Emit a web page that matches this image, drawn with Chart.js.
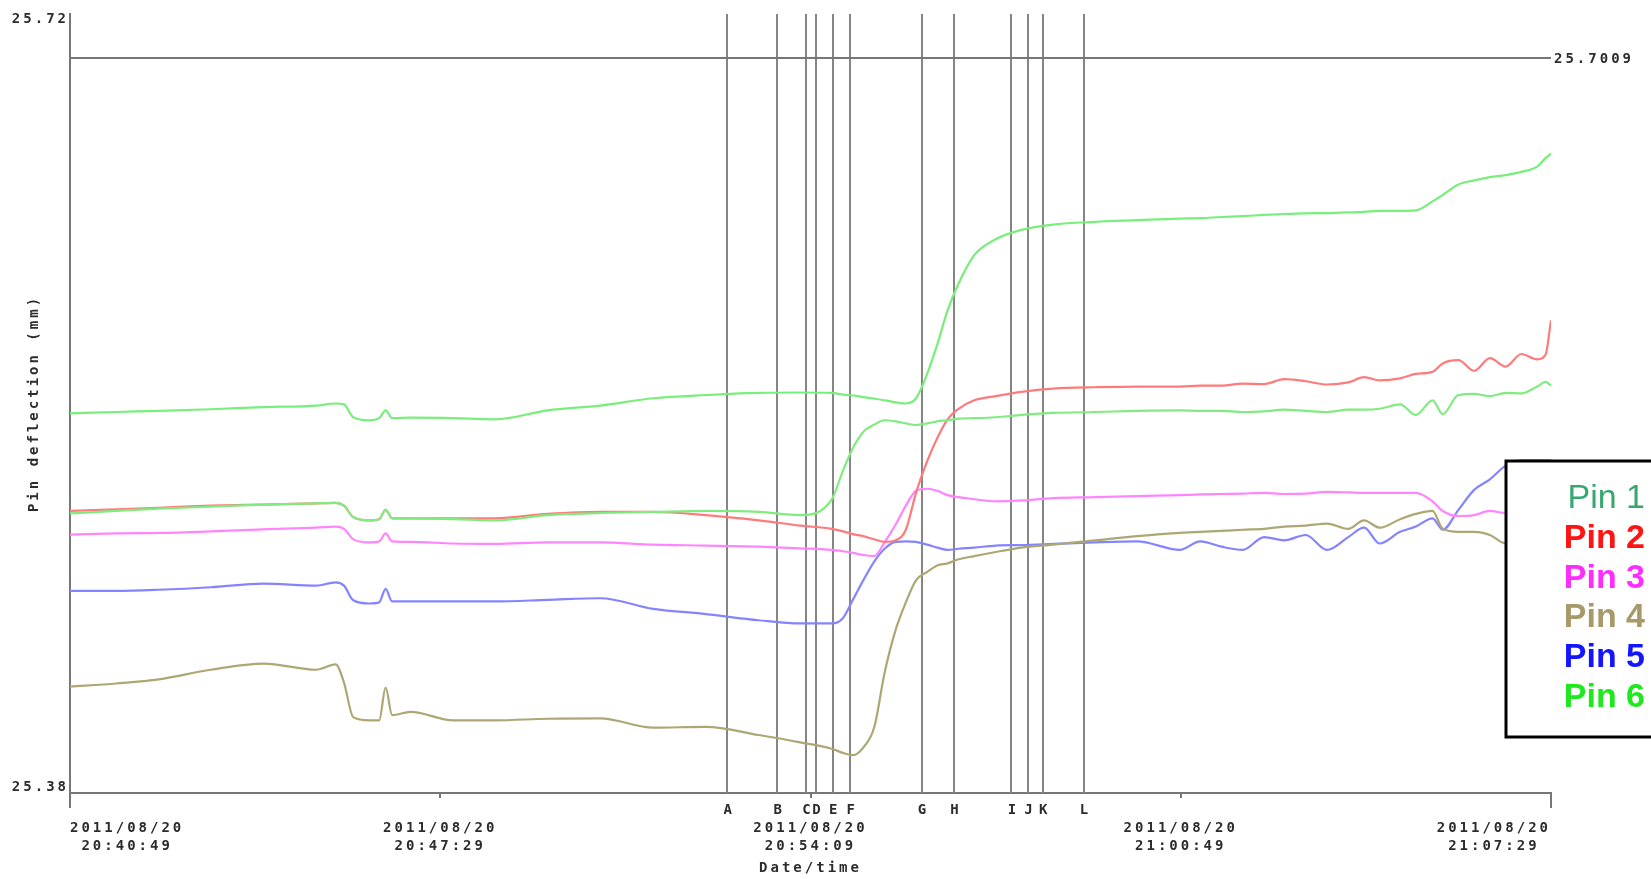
<!DOCTYPE html>
<html>
<head>
<meta charset="utf-8">
<title>Pin deflection</title>
<script src="https://cdn.jsdelivr.net/npm/chart.js"></script>
<style>
    html, body { margin: 0; padding: 0; background: #fff; }
    #wrap { width: 1651px; height: 879px; }
    #pin-chart { filter: blur(0.5px); }
</style>
</head>
<body>
<div id="wrap"><canvas id="pin-chart" width="1651" height="879"></canvas></div>
<script>
// seconds after 2011/08/20 20:40:49
const seconds = [0, 50, 96, 152, 209, 266, 287, 296, 306, 323, 334, 341, 348, 368, 414, 459, 516, 573, 630, 687,
    744, 789, 823, 835, 846, 857, 869, 880, 892, 903, 914, 926, 937, 948, 960, 977, 1000, 1028, 1062, 1108,
    1153, 1199, 1221, 1244, 1267, 1290, 1312, 1335, 1358, 1381, 1398, 1415, 1437, 1454, 1472, 1483, 1500, 1517,
    1534, 1551, 1568, 1585, 1594, 1600]

const pin1 = [25.5020, 25.5031, 25.5041, 25.5050, 25.5059, 25.5064, 25.5066, 25.5054, 25.5004, 25.4990,
    25.4995, 25.5036, 25.4999, 25.4999, 25.4995, 25.4990, 25.5013, 25.5022, 25.5027, 25.5031,
    25.5027, 25.5013, 25.5082, 25.5206, 25.5307, 25.5376, 25.5408, 25.5427, 25.5422, 25.5413,
    25.5406, 25.5413, 25.5422, 25.5427, 25.5434, 25.5436, 25.5440, 25.5450, 25.5459, 25.5463,
    25.5468, 25.5470, 25.5468, 25.5468, 25.5463, 25.5466, 25.5473, 25.5468, 25.5463, 25.5473,
    25.5473, 25.5477, 25.5496, 25.5450, 25.5514, 25.5454, 25.5537, 25.5542, 25.5532, 25.5546,
    25.5544, 25.5574, 25.5594, 25.5578]

const pin2 = [25.5031, 25.5038, 25.5045, 25.5054, 25.5059, 25.5064, 25.5066, 25.5054, 25.5004, 25.4990,
    25.4995, 25.5036, 25.4999, 25.4999, 25.4999, 25.4999, 25.5018, 25.5027, 25.5027, 25.5013,
    25.4990, 25.4967, 25.4953, 25.4942, 25.4930, 25.4921, 25.4907, 25.4896, 25.4903, 25.4949,
    25.5110, 25.5247, 25.5349, 25.5431, 25.5477, 25.5514, 25.5532, 25.5551, 25.5565, 25.5571,
    25.5574, 25.5574, 25.5578, 25.5578, 25.5587, 25.5585, 25.5606, 25.5597, 25.5583, 25.5592,
    25.5615, 25.5601, 25.5610, 25.5629, 25.5638, 25.5675, 25.5689, 25.5643, 25.5698, 25.5661,
    25.5716, 25.5693, 25.5712, 25.5863]

const pin3 = [25.4928, 25.4933, 25.4935, 25.4942, 25.4951, 25.4958, 25.4963, 25.4953, 25.4907, 25.4894,
    25.4898, 25.4933, 25.4898, 25.4896, 25.4889, 25.4887, 25.4894, 25.4894, 25.4884, 25.4880,
    25.4875, 25.4868, 25.4861, 25.4855, 25.4848, 25.4839, 25.4834, 25.4894, 25.4972, 25.5054,
    25.5119, 25.5128, 25.5119, 25.5100, 25.5091, 25.5082, 25.5073, 25.5077, 25.5087, 25.5091,
    25.5096, 25.5100, 25.5103, 25.5105, 25.5107, 25.5110, 25.5105, 25.5107, 25.5114, 25.5112,
    25.5110, 25.5110, 25.5110, 25.5110, 25.5073, 25.5031, 25.5009, 25.5013, 25.5031, 25.5022,
    25.5022, 25.5022, 25.5022, 25.5022]

const pin4 = [25.4264, 25.4278, 25.4296, 25.4338, 25.4365, 25.4338, 25.4361, 25.4282, 25.4131, 25.4117,
    25.4117, 25.4260, 25.4140, 25.4154, 25.4117, 25.4117, 25.4124, 25.4126, 25.4085, 25.4089,
    25.4053, 25.4021, 25.3993, 25.3975, 25.3965, 25.3998, 25.4089, 25.4324, 25.4512, 25.4632,
    25.4728, 25.4765, 25.4793, 25.4802, 25.4820, 25.4834, 25.4852, 25.4871, 25.4884, 25.4903,
    25.4921, 25.4935, 25.4940, 25.4944, 25.4949, 25.4953, 25.4963, 25.4967, 25.4976, 25.4953,
    25.4990, 25.4958, 25.4995, 25.5018, 25.5031, 25.4953, 25.4940, 25.4940, 25.4926, 25.4889,
    25.4903, 25.4884, 25.4880, 25.4880]

const pin5 = [25.4682, 25.4682, 25.4687, 25.4698, 25.4714, 25.4705, 25.4719, 25.4705, 25.4641, 25.4627,
    25.4632, 25.4691, 25.4636, 25.4636, 25.4636, 25.4636, 25.4643, 25.4650, 25.4604, 25.4581,
    25.4554, 25.4540, 25.4540, 25.4563, 25.4645, 25.4728, 25.4811, 25.4866, 25.4896, 25.4898,
    25.4896, 25.4884, 25.4871, 25.4861, 25.4866, 25.4871, 25.4880, 25.4882, 25.4887, 25.4894,
    25.4898, 25.4861, 25.4898, 25.4875, 25.4861, 25.4917, 25.4903, 25.4926, 25.4861, 25.4917,
    25.4958, 25.4889, 25.4940, 25.4963, 25.4999, 25.4949, 25.5036, 25.5123, 25.5169, 25.5229,
    25.5252, 25.5252, 25.5252, 25.5252]

const pin6 = [25.5457, 25.5463, 25.5468, 25.5475, 25.5484, 25.5491, 25.5500, 25.5496, 25.5440, 25.5427,
    25.5436, 25.5470, 25.5436, 25.5438, 25.5436, 25.5431, 25.5470, 25.5491, 25.5523, 25.5537,
    25.5546, 25.5548, 25.5546, 25.5539, 25.5535, 25.5528, 25.5521, 25.5514, 25.5505, 25.5500,
    25.5523, 25.5629, 25.5758, 25.5905, 25.6024, 25.6148, 25.6217, 25.6258, 25.6281, 25.6293,
    25.6300, 25.6307, 25.6309, 25.6314, 25.6318, 25.6323, 25.6327, 25.6330, 25.6331, 25.6334,
    25.6336, 25.6341, 25.6341, 25.6343, 25.6382, 25.6410, 25.6456, 25.6474, 25.6488, 25.6497,
    25.6511, 25.6534, 25.6571, 25.6591]

const pinNames = ['Pin 1', 'Pin 2', 'Pin 3', 'Pin 4', 'Pin 5', 'Pin 6']

const eventNames = ['A', 'B', 'C', 'D', 'E', 'F', 'G', 'H', 'I', 'J', 'K', 'L']
const eventSeconds = [710, 764, 795, 806, 824, 843, 920, 955, 1017, 1035, 1051, 1095]

const xTickSeconds = [0, 400, 800, 1200, 1600]
const xTickLabels = [
    ['2011/08/20', '20:40:49'],
    ['2011/08/20', '20:47:29'],
    ['2011/08/20', '20:54:09'],
    ['2011/08/20', '21:00:49'],
    ['2011/08/20', '21:07:29'],
]
const yTicks = [25.38, 25.72]
const refValue = 25.7009

// styles
const lineColors = ['#80ec80', '#ff7a7a', '#ff85ff', '#ada774', '#8484ff', '#7aee7a']
const legendColors = ['#36a86c', '#ff1414', '#ff2cff', '#a89a68', '#1414ff', '#1ee81e']
const monoFont = "'DejaVu Sans Mono', monospace"
const textGrey = '#2c2c2c'

function points(values) {
    return values.map(function (v, i) { return { x: seconds[i], y: v } })
}

const pinSeries = [pin1, pin2, pin3, pin4, pin5, pin6]
// draw order: pin 6 and pin 1 under the others
const drawOrder = [5, 0, 3, 1, 2, 4]

const datasets = drawOrder.map(function (k) {
    return {
        label: pinNames[k],
        data: points(pinSeries[k]),
        borderColor: lineColors[k],
        borderWidth: 2.2,
        pointRadius: 0,
        cubicInterpolationMode: 'monotone',
        fill: false,
    }
})

const decor = {
    id: 'decor',
    beforeDraw: function (chart) {
        chart.ctx.letterSpacing = '3px'
    },
    beforeDatasetsDraw: function (chart) {
        const ctx = chart.ctx
        const a = chart.chartArea
        const x = chart.scales.x
        const y = chart.scales.y
        ctx.save()
        ctx.lineWidth = 2
        ctx.strokeStyle = '#858585'
        eventSeconds.forEach(function (s) {
            const px = Math.round(x.getPixelForValue(s))
            ctx.beginPath()
            ctx.moveTo(px, a.top)
            ctx.lineTo(px, a.bottom)
            ctx.stroke()
        })
        const ry = Math.round(y.getPixelForValue(refValue))
        ctx.strokeStyle = '#777777'
        ctx.beginPath()
        ctx.moveTo(a.left, ry)
        ctx.lineTo(a.right, ry)
        ctx.stroke()
        ctx.restore()
    },
    afterDraw: function (chart) {
        const ctx = chart.ctx
        const a = chart.chartArea
        const x = chart.scales.x
        const y = chart.scales.y
        ctx.save()
        // axis ends reaching below the axis
        ctx.strokeStyle = '#777777'
        ctx.lineWidth = 2
        ctx.beginPath()
        ctx.moveTo(a.left, a.bottom)
        ctx.lineTo(a.left, a.bottom + 15)
        ctx.moveTo(a.right, a.bottom)
        ctx.lineTo(a.right, a.bottom + 15)
        ctx.stroke()

        // event letters
        ctx.fillStyle = textGrey
        ctx.font = 'bold 14px ' + monoFont
        ctx.textBaseline = 'middle'
        ctx.textAlign = 'center'
        eventSeconds.forEach(function (s, i) {
            ctx.fillText(eventNames[i], x.getPixelForValue(s) + 2, a.bottom + 17)
        })

        // reference value
        ctx.textAlign = 'left'
        ctx.fillText(refValue.toFixed(4), a.right + 3, Math.round(y.getPixelForValue(refValue)) + 1)

        // legend box
        ctx.letterSpacing = '0px'
        ctx.fillStyle = '#ffffff'
        ctx.fillRect(1506, 461, 160, 276)
        ctx.strokeStyle = '#000000'
        ctx.lineWidth = 3
        ctx.strokeRect(1506, 461, 160, 276)
        ctx.textAlign = 'right'
        pinNames.forEach(function (name, i) {
            ctx.font = (i === 0 ? '' : 'bold ') + "34px 'Liberation Sans', Arial, sans-serif"
            ctx.fillStyle = legendColors[i]
            ctx.fillText(name, 1645, 499 + i * 39.7)
        })
        ctx.restore()
    }
}

const config = {
    type: 'line',
    data: { datasets: datasets },
    options: {
        responsive: false,
        animation: false,
        devicePixelRatio: 1,
        layout: { padding: { top: 14, right: 100, left: 0, bottom: 0 } },
        plugins: {
            legend: { display: false },
            tooltip: { enabled: false },
        },
        scales: {
            x: {
                type: 'linear',
                min: 0,
                max: 1600,
                afterBuildTicks: function (scale) {
                    scale.ticks = xTickSeconds.map(function (v) { return { value: v } })
                },
                afterFit: function (scale) { scale.height = 86 },
                ticks: {
                    autoSkip: false,
                    maxRotation: 0,
                    align: 'inner',
                    padding: 21,
                    color: textGrey,
                    font: { family: monoFont, weight: 'bold', size: 14, lineHeight: 18 / 14 },
                    callback: function (v, i, ticks) {
                        const lines = xTickLabels[i]
                        // end labels sit flush with the axis ends, second line centred under the first
                        if (i === 0) return [lines[0], ' ' + lines[1]]
                        if (i === ticks.length - 1) return [lines[0], lines[1] + ' ']
                        return lines
                    },
                },
                grid: { display: true, drawOnChartArea: false, drawTicks: true, tickLength: 5, color: '#777777', lineWidth: 2 },
                border: { display: true, color: '#777777', width: 2 },
                title: {
                    display: true,
                    text: 'Date/time',
                    color: textGrey,
                    font: { family: monoFont, weight: 'bold', size: 14 },
                    padding: { top: 0, bottom: 2 },
                },
            },
            y: {
                min: 25.38,
                max: 25.72,
                afterBuildTicks: function (scale) {
                    scale.ticks = yTicks.map(function (v) { return { value: v } })
                },
                afterFit: function (scale) { scale.width = 70 },
                ticks: {
                    padding: 1,
                    color: textGrey,
                    font: { family: monoFont, weight: 'bold', size: 14, lineHeight: 11 / 14 },
                    // an empty line pushes each end label inside the axis span
                    callback: function (v, i) {
                        return i === 0 ? [v.toFixed(2), ''] : ['', v.toFixed(2)]
                    },
                },
                grid: { display: false, drawTicks: false },
                border: { display: true, color: '#777777', width: 2 },
                title: {
                    display: true,
                    text: 'Pin deflection (mm)',
                    color: textGrey,
                    font: { family: monoFont, weight: 'bold', size: 14 },
                    padding: { top: 26, bottom: 0 },
                },
            },
        },
    },
    plugins: [decor],
}

const pinChart = new Chart(document.getElementById('pin-chart'), config)
</script>
</body>
</html>
